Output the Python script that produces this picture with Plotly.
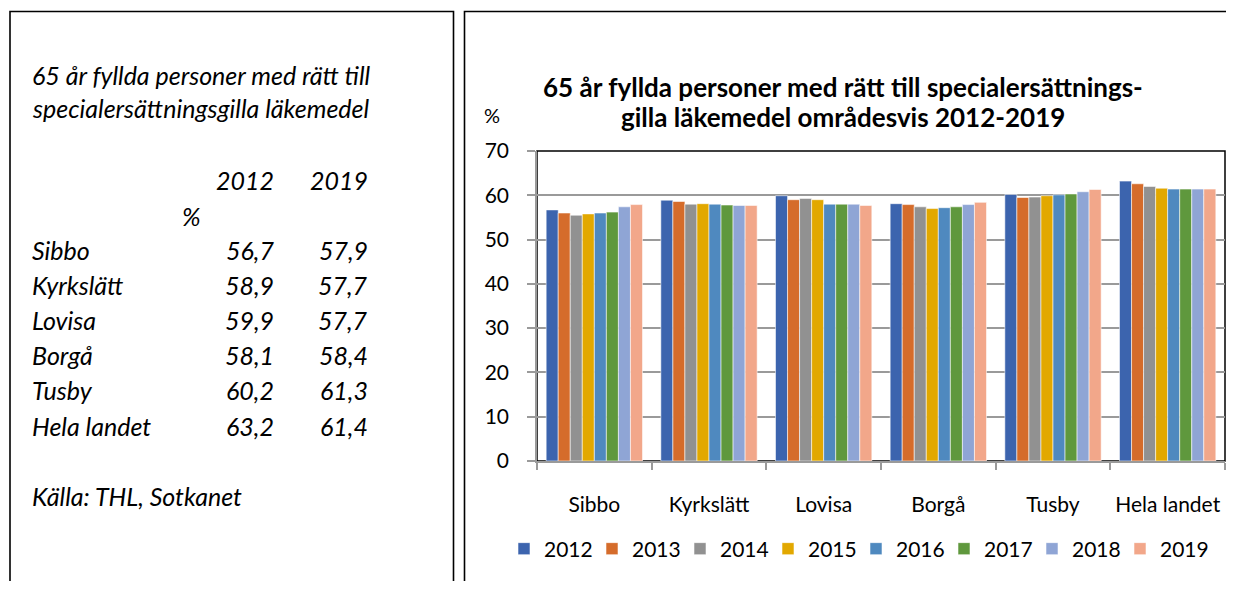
import plotly.graph_objects as go

# ---- data ----
areas = ["Sibbo", "Kyrkslätt", "Lovisa", "Borgå", "Tusby", "Hela landet"]
years = ["2012", "2013", "2014", "2015", "2016", "2017", "2018", "2019"]
v2012 = [56.7, 58.9, 59.9, 58.1, 60.2, 63.2]
v2013 = [56.0, 58.6, 59.0, 57.9, 59.5, 62.6]
v2014 = [55.5, 58.0, 59.3, 57.4, 59.6, 62.0]
v2015 = [55.8, 58.1, 59.0, 57.0, 59.9, 61.6]
v2016 = [56.0, 58.0, 58.0, 57.2, 60.1, 61.4]
v2017 = [56.2, 57.8, 58.0, 57.4, 60.3, 61.4]
v2018 = [57.4, 57.7, 58.0, 57.9, 60.8, 61.4]
v2019 = [57.9, 57.7, 57.7, 58.4, 61.3, 61.4]
series = [v2012, v2013, v2014, v2015, v2016, v2017, v2018, v2019]
colors = ["#3C64AE", "#D56C2B", "#919191", "#E2A800",
          "#4F89BF", "#5F983D", "#8FA5D5", "#F2A78A"]
ytick_vals = [0, 10, 20, 30, 40, 50, 60, 70]

table_title = ["65 år fyllda personer med rätt till",
               "specialersättningsgilla läkemedel"]
table_rows = ["Sibbo", "Kyrkslätt", "Lovisa", "Borgå", "Tusby", "Hela landet"]
table_2012 = ["56,7", "58,9", "59,9", "58,1", "60,2", "63,2"]
table_2019 = ["57,9", "57,7", "57,7", "58,4", "61,3", "61,4"]
source = "Källa: THL, Sotkanet"
chart_title = ["65 år fyllda personer med rätt till specialersättnings-",
               "gilla läkemedel områdesvis 2012-2019"]

# ---- layout geometry (page pixels; the page body has an 8px margin) ----
OFF = 8
W, H = 1234 - 2 * OFF, 589 - 2 * OFF
PL, PR, PT, PB = 537, 1225, 151, 461


def px(x):
    return (x - PL) / (PR - PL)


def py(y):
    return (PB - y) / (PB - PT)


FONT = "Lato"

fig = go.Figure()
for yr, vals, col in zip(years, series, colors):
    fig.add_trace(go.Bar(
        x=areas, y=vals, name=yr,
        marker=dict(color=col, line=dict(color="rgba(255,255,255,0.55)", width=1)),
    ))

ann = []
# chart title
for t, yy in zip(chart_title, [87, 117]):
    ann.append(dict(x=px(843), y=py(yy), text="<b>" + t + "</b>",
                    xref="paper", yref="paper", showarrow=False,
                    xanchor="center", yanchor="middle",
                    font=dict(family=FONT, size=26, color="black")))
# y unit
ann.append(dict(x=px(492), y=py(115), text="%", xref="paper", yref="paper",
                showarrow=False, xanchor="center", yanchor="middle",
                font=dict(family=FONT, size=20, color="black")))


# left panel texts
def left(x, y, t, anchor="left"):
    ann.append(dict(x=px(x), y=py(y), text="<i>" + t + "</i>", xref="paper",
                    yref="paper", showarrow=False, xanchor=anchor,
                    yanchor="middle",
                    font=dict(family=FONT, size=25, color="black")))


left(30, 75, table_title[0])
left(30, 108, table_title[1])
left(276, 180, years[0], "right")
left(370, 180, years[-1], "right")
left(191, 216, "%", "center")
for i, (r, a, b) in enumerate(zip(table_rows, table_2012, table_2019)):
    yy = 250 + i * 35.1
    left(30, yy, r)
    left(276, yy, a, "right")
    left(370, yy, b, "right")
left(30, 496, source)

shapes = [
    dict(type="rect", xref="paper", yref="paper",
         x0=px(10), x1=px(453.5), y0=py(11.5), y1=py(640),
         line=dict(color="black", width=1.6), layer="above"),
    dict(type="rect", xref="paper", yref="paper",
         x0=px(464.5), x1=px(1280), y0=py(11.5), y1=py(640),
         line=dict(color="black", width=1.6), layer="above"),
    dict(type="rect", xref="paper", yref="paper",
         x0=0, x1=1, y0=0, y1=1,
         line=dict(color="black", width=1.5), layer="below"),
]

fig.update_layout(
    width=W, height=H,
    margin=dict(l=PL - OFF, r=(1234 - OFF) - PR, t=PT - OFF,
                b=(589 - OFF) - PB, pad=0),
    paper_bgcolor="white", plot_bgcolor="white",
    barmode="group", bargap=0.16, bargroupgap=0,
    font=dict(family=FONT, color="black"),
    annotations=ann, shapes=shapes,
    legend=dict(orientation="h", x=px(504), xanchor="left",
                y=py(549), yanchor="middle",
                font=dict(family=FONT, size=21, color="black"),
                itemwidth=30, entrywidth=43, entrywidthmode="pixels",
                traceorder="normal", bgcolor="rgba(0,0,0,0)"),
    showlegend=True,
)
fig.update_xaxes(
    showline=True, linecolor="#9a9a9a", linewidth=1.5,
    ticks="outside", ticklen=7, tickcolor="#9a9a9a", tickwidth=1.5,
    tickson="boundaries", showgrid=False, tickangle=0,
    tickfont=dict(family=FONT, size=21, color="black"),
    ticklabelstandoff=24,
)
fig.update_yaxes(
    range=[0, 70], tickvals=ytick_vals,
    showline=True, linecolor="#9a9a9a", linewidth=1.5,
    ticks="outside", ticklen=8, tickcolor="#9a9a9a", tickwidth=1.5,
    showgrid=True, gridcolor="#9a9a9a", gridwidth=1.5,
    zeroline=False,
    tickfont=dict(family=FONT, size=21, color="black"),
    ticklabelstandoff=14,
)

fig.write_html("out.html", config={"displayModeBar": False})
